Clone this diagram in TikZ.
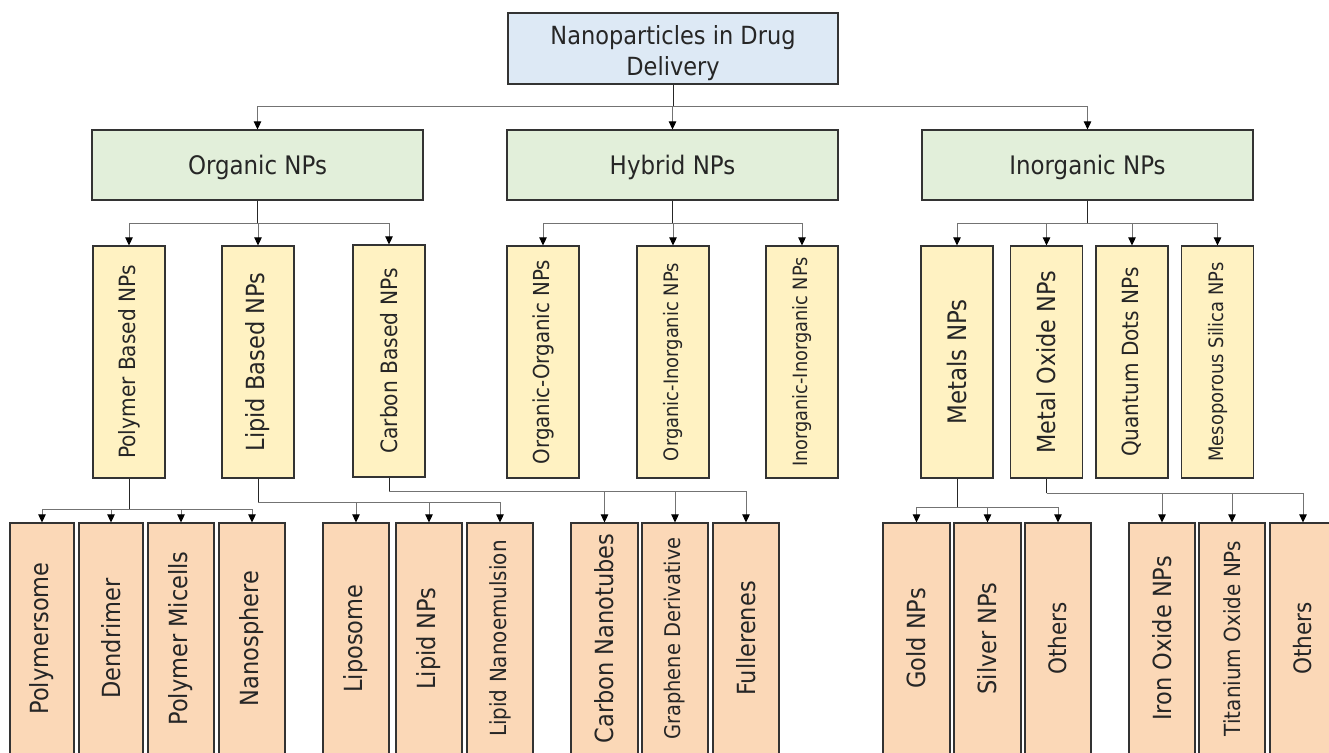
\documentclass[tikz,border=0pt]{standalone}
\usepackage{fontspec}
\usepackage{graphicx}
\setmainfont{DejaVu Sans Condensed}
\usetikzlibrary{arrows.meta}
\definecolor{rootc}{HTML}{DDE9F5}
\definecolor{greenc}{HTML}{E2EFDA}
\definecolor{yelc}{HTML}{FFF2C2}
\definecolor{peachc}{HTML}{FBD8B7}
\definecolor{txtc}{HTML}{262626}
\tikzset{
  bx/.style={draw=black!80, line width=1.2pt, inner sep=0pt, text=txtc},
  rootb/.style={bx, fill=rootc, minimum width=330pt, minimum height=71pt},
  roottxt/.style={align=center, text=txtc, inner sep=0pt, font=\fontsize{25}{31}\selectfont, yshift=-4.5pt},
  lone/.style={bx, fill=greenc, minimum width=331pt, minimum height=70pt, text height=18pt, text depth=0pt, font=\fontsize{25.5}{30}\selectfont},
  ltwo/.style={bx, fill=yelc, minimum width=72pt, minimum height=232pt, font=\fontsize{25}{30}\selectfont},
  lthree/.style={bx, fill=peachc, minimum width=66pt, minimum height=231pt, font=\fontsize{25}{30}\selectfont},
  stem/.style={line width=1pt, draw=black!85},
  br/.style={line width=1pt, draw=black!55, -{Triangle[width=7.5pt,length=8pt,color=black]}},
}
\begin{document}
\begin{tikzpicture}[x=1pt,y=-1pt]
\useasboundingbox (0,0) rectangle (1329,752);
\clip (0,0) rectangle (1329,752);
\fill[white] (0,0) rectangle (1329,752);

% root
\node[rootb, label={[roottxt]center:Nanoparticles in Drug\\Delivery}] (root) at (673,48.5) {};

% level 1
\node[lone] (org) at (257.5,165) {Organic NPs};
\node[lone] (hyb) at (672.5,165) {Hybrid NPs};
\node[lone] (inorg) at (1087.5,165) {Inorganic NPs};

% level 2
\node[ltwo, font=\fontsize{22.4}{26}\selectfont] (poly) at (129,362) {\rotatebox{90}{Polymer Based NPs}};
\node[ltwo] (lip) at (258,362) {\rotatebox{90}{Lipid Based NPs}};
\node[ltwo, font=\fontsize{22.5}{26}\selectfont] (carb) at (389,361) {\rotatebox{90}{Carbon Based NPs}};
\node[ltwo, font=\fontsize{22}{26}\selectfont] (oo) at (543,362) {\rotatebox{90}{Organic-Organic NPs}};
\node[ltwo, font=\fontsize{19.9}{24}\selectfont] (oi) at (673,362) {\rotatebox{90}{Organic-Inorganic NPs}};
\node[ltwo, font=\fontsize{19.7}{24}\selectfont] (ii) at (802,362) {\rotatebox{90}{Inorganic-Inorganic NPs}};
\node[ltwo, font=\fontsize{25.5}{30}\selectfont] (met) at (957,362) {\rotatebox{90}{Metals NPs}};
\node[ltwo, font=\fontsize{24.9}{30}\selectfont] (mox) at (1046.5,362) {\rotatebox{90}{Metal Oxide NPs}};
\node[ltwo, font=\fontsize{22.3}{26}\selectfont] (qd) at (1132,362) {\rotatebox{90}{Quantum Dots NPs}};
\node[ltwo, font=\fontsize{19.9}{24}\selectfont] (meso) at (1217.5,362) {\rotatebox{90}{Mesoporous Silica NPs}};

% level 3
\node[lthree, minimum width=64pt] (psome) at (42,638.5) {\rotatebox{90}{Polymersome}};
\node[lthree, minimum width=64pt] (dend) at (111,638.5) {\rotatebox{90}{Dendrimer}};
\node[lthree] (mic) at (181,638.5) {\rotatebox{90}{Polymer Micells}};
\node[lthree] (nsph) at (252,638.5) {\rotatebox{90}{Nanosphere}};
\node[lthree] (lipo) at (356,638.5) {\rotatebox{90}{Liposome}};
\node[lthree] (lnp) at (429,638.5) {\rotatebox{90}{Lipid NPs}};
\node[lthree, font=\fontsize{22.2}{26}\selectfont] (lne) at (500,638.5) {\rotatebox{90}{Lipid Nanoemulsion}};
\node[lthree, minimum width=67pt] (cnt) at (604.5,638.5) {\rotatebox{90}{Carbon Nanotubes}};
\node[lthree, font=\fontsize{21.6}{26}\selectfont] (gra) at (675,638.5) {\rotatebox{90}{Graphene Derivative}};
\node[lthree] (ful) at (746,638.5) {\rotatebox{90}{Fullerenes}};
\node[lthree, minimum width=67pt] (gold) at (916.5,638.5) {\rotatebox{90}{Gold NPs}};
\node[lthree, minimum width=67pt] (silv) at (987.5,638.5) {\rotatebox{90}{Silver NPs}};
\node[lthree, font=\fontsize{24}{28}\selectfont] (oth) at (1058,638.5) {\rotatebox{90}{Others}};
\node[lthree] (iron) at (1162,638.5) {\rotatebox{90}{Iron Oxide NPs}};
\node[lthree, font=\fontsize{22.2}{26}\selectfont] (tita) at (1232,638.5) {\rotatebox{90}{Titanium Oxide NPs}};
\node[lthree, font=\fontsize{24}{28}\selectfont] (othb) at (1303,638.5) {\rotatebox{90}{Others}};

% junctions
\coordinate (j0) at (673,106);
\coordinate (j1) at (257.5,223);
\coordinate (j2) at (672.5,223);
\coordinate (j3) at (1087.5,223);
\coordinate (j4) at (129,509);
\coordinate (j5) at (258,502);
\coordinate (j6) at (389,491);
\coordinate (j7) at (957,507);
\coordinate (j8) at (1046.5,493);

% root connectors
\draw[stem] (root.south) -- (j0);
\draw[br] (j0) -| (org.north);
\draw[br] (j0) -| (hyb.north);
\draw[br] (j0) -| (inorg.north);

% organic
\draw[stem] (org.south) -- (j1);
\draw[br] (j1) -| (poly.north);
\draw[br] (j1) -| (lip.north);
\draw[br] (j1) -| (carb.north);
% hybrid
\draw[stem] (hyb.south) -- (j2);
\draw[br] (j2) -| (oo.north);
\draw[br] (j2) -| (oi.north);
\draw[br] (j2) -| (ii.north);
% inorganic
\draw[stem] (inorg.south) -- (j3);
\draw[br] (j3) -| (met.north);
\draw[br] (j3) -| (mox.north);
\draw[br] (j3) -| (qd.north);
\draw[br] (j3) -| (meso.north);

% polymer
\draw[stem] (poly.south) -- (j4);
\draw[br] (j4) -| (psome.north);
\draw[br] (j4) -| (dend.north);
\draw[br] (j4) -| (mic.north);
\draw[br] (j4) -| (nsph.north);
% lipid
\draw[stem] (lip.south) -- (j5);
\draw[br] (j5) -| (lipo.north);
\draw[br] (j5) -| (lnp.north);
\draw[br] (j5) -| (lne.north);
% carbon
\draw[stem] (carb.south) -- (j6);
\draw[br] (j6) -| (cnt.north);
\draw[br] (j6) -| (gra.north);
\draw[br] (j6) -| (ful.north);
% metals
\draw[stem] (met.south) -- (j7);
\draw[br] (j7) -| (gold.north);
\draw[br] (j7) -| (silv.north);
\draw[br] (j7) -| (oth.north);
% metal oxide
\draw[stem] (mox.south) -- (j8);
\draw[br] (j8) -| (iron.north);
\draw[br] (j8) -| (tita.north);
\draw[br] (j8) -| (othb.north);
\end{tikzpicture}
\end{document}
